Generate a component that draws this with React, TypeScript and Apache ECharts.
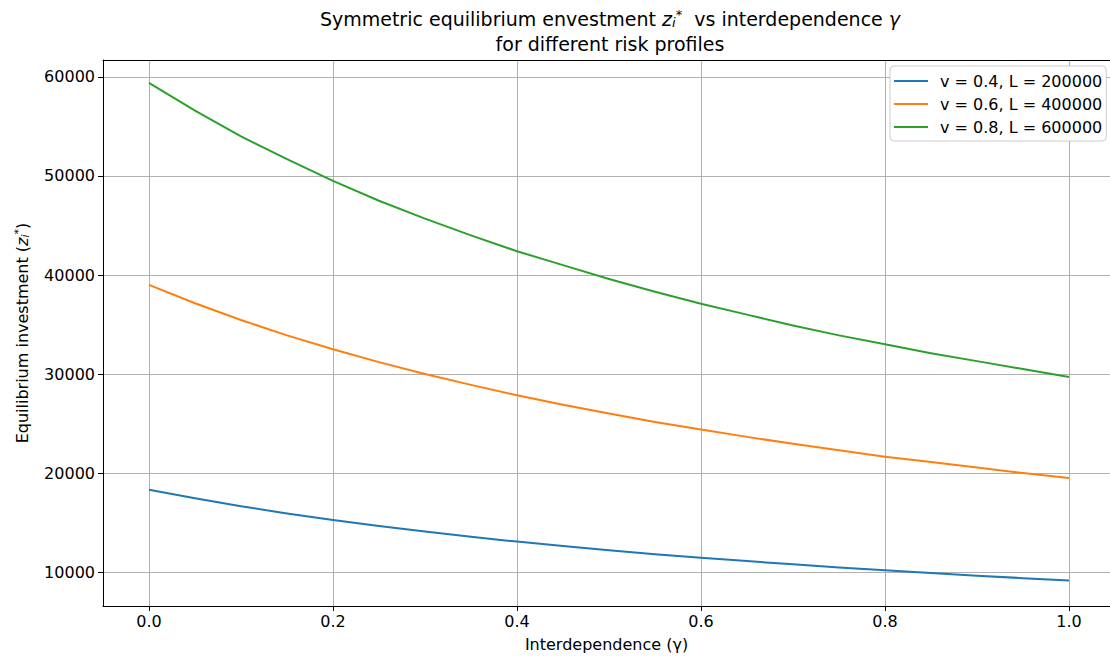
import React, { useEffect, useRef } from "react";
import * as echarts from "echarts";

const gammas = [0, 0.05, 0.1, 0.15, 0.2, 0.25, 0.3, 0.35, 0.4, 0.45, 0.5, 0.55, 0.6, 0.65, 0.7, 0.75, 0.8, 0.85, 0.9, 0.95, 1.0];
const lowRisk = [18300, 17450, 16650, 15900, 15250, 14650, 14100, 13550, 13070, 12620, 12200, 11800, 11450, 11100, 10780, 10460, 10170, 9890, 9630, 9380, 9150];
const midRisk = [39000, 37150, 35450, 33900, 32500, 31200, 30000, 28900, 27850, 26900, 26000, 25150, 24400, 23650, 22950, 22300, 21650, 21100, 20550, 20000, 19500];
const highRisk = [59400, 56600, 54000, 51700, 49500, 47500, 45700, 44000, 42400, 41000, 39600, 38300, 37100, 36000, 34900, 33900, 33000, 32100, 31300, 30500, 29700];
const seriesNames = ["v = 0.4, L = 200000", "v = 0.6, L = 400000", "v = 0.8, L = 600000"];
const colors = ["#1f77b4", "#ff7f0e", "#2ca02c"];
const xTicks = [0, 0.2, 0.4, 0.6, 0.8, 1.0];
const yTicks = [10000, 20000, 30000, 40000, 50000, 60000];

const FONT = "DejaVu Sans";
const FS = 16;
const TFS = 19;

export default function App() {
  const ref = useRef<HTMLDivElement>(null);
  useEffect(() => {
    if (!ref.current) return;
    const chart = echarts.init(ref.current, null, { renderer: "svg" });
    const dataOf = (vals: number[]) => gammas.map((g, i) => [g, vals[i]]);
    chart.setOption({
      animation: false,
      backgroundColor: "#ffffff",
      textStyle: { fontFamily: FONT },
      title: {
        text: "Symmetric equilibrium envestment {zi|z}{sb|i}{sp|*}  vs interdependence {gi|γ}\nfor different risk profiles",
        left: 605,
        textAlign: "center",
        top: 1,
        textStyle: {
          fontFamily: FONT,
          fontSize: TFS,
          fontWeight: "normal",
          color: "#000",
          lineHeight: 25,
          rich: {
            zi: { fontFamily: FONT, fontStyle: "italic", fontSize: TFS, color: "#000", lineHeight: 25 },
            sb: { fontFamily: FONT, fontStyle: "italic", fontSize: 13, color: "#000", lineHeight: 25, padding: [8, 0, 0, 0] },
            sp: { fontFamily: FONT, fontSize: 13, color: "#000", lineHeight: 25, padding: [0, 0, 8, 0] },
            gi: { fontFamily: FONT, fontStyle: "italic", fontSize: TFS, color: "#000", lineHeight: 25 },
          },
        },
      },
      legend: {
        orient: "vertical",
        left: 890,
        top: 66,
        padding: [7, 4, 6, 4],
        itemGap: 7,
        itemWidth: 34,
        itemHeight: 2,
        icon: "rect",
        backgroundColor: "#ffffff",
        borderColor: "#cccccc",
        borderWidth: 1,
        borderRadius: 4,
        textStyle: { fontFamily: FONT, fontSize: FS, lineHeight: 16, color: "#000", padding: [0, 0, 0, 7] },
        data: seriesNames,
      },
      grid: { left: 103, top: 60, right: 0, height: 546, containLabel: false },
      xAxis: [
        {
          type: "value",
          min: -0.05,
          max: 1.0446,
          name: "Interdependence (γ)",
          nameLocation: "middle",
          nameGap: 30,
          nameTextStyle: { fontFamily: FONT, fontSize: FS, color: "#000" },
          axisLine: { show: true, onZero: false, lineStyle: { color: "#000", width: 1 } },
          axisTick: { show: true, length: 5, customValues: xTicks, lineStyle: { color: "#000" } },
          axisLabel: {
            customValues: xTicks,
            formatter: (v: number) => v.toFixed(1),
            fontFamily: FONT,
            fontSize: FS,
            color: "#000",
            margin: 7,
          },
          splitLine: { show: true, lineStyle: { color: "#b0b0b0", width: 1 } },
        },
        {
          type: "value",
          position: "top",
          min: -0.05,
          max: 1.0446,
          axisLine: { show: true, onZero: false, lineStyle: { color: "#000", width: 1 } },
          axisTick: { show: false },
          axisLabel: { show: false },
          splitLine: { show: false },
        },
      ],
      yAxis: {
        type: "value",
        min: 6566,
        max: 61717,
        name: "Equilibrium investment ({zi|z}{sb|i}{sp|*})",
        nameLocation: "middle",
        nameGap: 72,
        nameTextStyle: {
          fontFamily: FONT,
          fontSize: FS,
          color: "#000",
          rich: {
            zi: { fontFamily: FONT, fontStyle: "italic", fontSize: FS, color: "#000" },
            sb: { fontFamily: FONT, fontStyle: "italic", fontSize: 11, color: "#000", padding: [7, 0, 0, 0] },
            sp: { fontFamily: FONT, fontSize: 11, color: "#000", padding: [0, 0, 7, 0] },
          },
        },
        axisLine: { show: true, onZero: false, lineStyle: { color: "#000", width: 1 } },
        axisTick: { show: true, length: 5, customValues: yTicks, lineStyle: { color: "#000" } },
        axisLabel: {
          customValues: yTicks,
          formatter: (v: number) => String(v),
          fontFamily: FONT,
          fontSize: FS,
          color: "#000",
          margin: 8,
        },
        splitLine: { show: true, lineStyle: { color: "#b0b0b0", width: 1 } },
      },
      series: [lowRisk, midRisk, highRisk].map((vals, i) => ({
        name: seriesNames[i],
        type: "line",
        data: dataOf(vals),
        symbol: "none",
        smooth: false,
        color: colors[i],
        lineStyle: { color: colors[i], width: 2, join: "round" },
      })),
    });
    return () => chart.dispose();
  }, []);
  return (
    <div
      ref={ref}
      style={{ position: "fixed", left: 0, top: 0, width: 1110, height: 659, background: "#fff" }}
    />
  );
}
